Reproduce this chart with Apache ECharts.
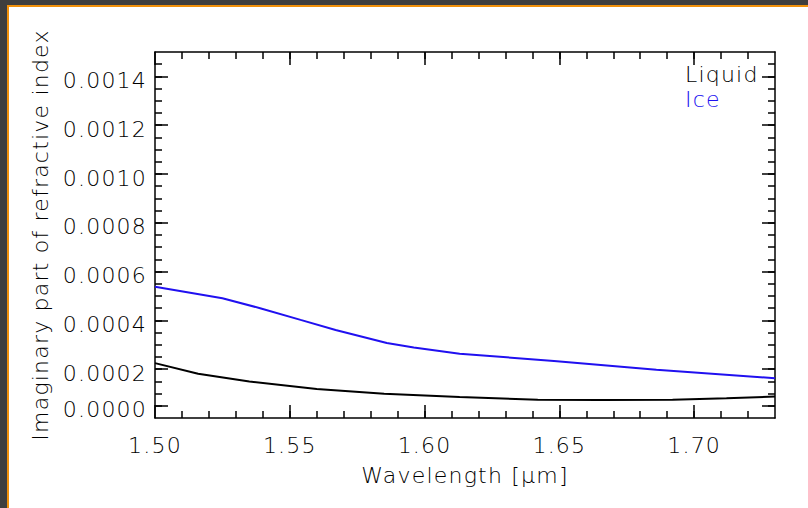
<!DOCTYPE html>
<html>
<head>
<meta charset="utf-8">
<script src="https://cdn.jsdelivr.net/npm/echarts@6/dist/echarts.min.js"></script>
<style>
  html, body { margin: 0; padding: 0; }
  body { width: 808px; height: 508px; position: relative; overflow: hidden; background: #3e3e3e; }
  #orange { position: absolute; left: 7px; top: 5px; right: 0; bottom: 0; background: #f0900a; }
  #paper { position: absolute; left: 9px; top: 7px; right: 0; bottom: 0; background: #ffffff; }
  #chart { position: absolute; left: 0; top: 0; width: 808px; height: 508px; }
  #chart text { letter-spacing: 1.2px; }
</style>
</head>
<body>
<div id="orange"></div>
<div id="paper"></div>
<div id="chart"></div>
<script>
// ---- data ----
const liquidWavelength = [1.500, 1.516, 1.535, 1.560, 1.585, 1.613, 1.642, 1.665, 1.692, 1.712, 1.730];
const liquidValues     = [0.000225, 0.000181, 0.000150, 0.000119, 0.000099, 0.000086, 0.000075, 0.000074, 0.000075, 0.000081, 0.000088];

const iceWavelength = [1.500, 1.525, 1.539, 1.554, 1.567, 1.586, 1.596, 1.613, 1.648, 1.686, 1.730];
const iceValues     = [0.000538, 0.000491, 0.000450, 0.000402, 0.000361, 0.000307, 0.000289, 0.000263, 0.000234, 0.000198, 0.000163];

const seriesNames = ['Liquid', 'Ice'];

// axis ticks / labels
const xMin = 1.50, xMax = 1.73;
const yMin = 0, yMax = 0.0015;
const xMajorTicks = [1.50, 1.55, 1.60, 1.65, 1.70];
const xMinorStep = 0.01;
const yMajorTicks = [0.00005, 0.0002, 0.0004, 0.0006, 0.0008, 0.0010, 0.0012, 0.0014];
const yTickLabels = ['0.0000', '0.0002', '0.0004', '0.0006', '0.0008', '0.0010', '0.0012', '0.0014'];
const yMinorStep = 0.00005;

const xTitle = 'Wavelength [μm]';
const yTitle = 'Imaginary part of refractive index';

// ---- chart ----
const FONT = 'DejaVu Sans';
const FS = 22;
const colLiquid = '#000000';
const colIce = '#2010f0';

function steps(min, max, step) {
  const out = [];
  const n = Math.round((max - min) / step);
  for (let i = 0; i <= n; i++) out.push(+(min + i * step).toFixed(8));
  return out;
}
const xMinor = steps(xMin, xMax, xMinorStep).filter(v => v > xMin && v < xMax);
const yMinor = steps(yMin, yMax, yMinorStep).filter(v => v > yMin && v < yMax);

const lineStyle = { color: '#000', width: 1.5 };
const baseText = { color: '#000', fontFamily: FONT, fontSize: FS, fontWeight: 300 };

function xAxisDef(pos, ticks, len, showLine, showLabel, extra) {
  return Object.assign({
    type: 'value', position: pos, min: xMin, max: xMax, gridIndex: 0,
    axisLine: { show: showLine, onZero: false, lineStyle: lineStyle },
    axisTick: { show: true, inside: true, length: len, customValues: ticks, lineStyle: { color: '#000', width: 1.5 } },
    axisLabel: showLabel ? Object.assign({
      show: true, customValues: ticks, margin: 16,
      formatter: v => v.toFixed(2)
    }, baseText) : { show: false },
    splitLine: { show: false }
  }, extra || {});
}
function yAxisDef(pos, ticks, len, showLine, showLabel, extra) {
  return Object.assign({
    type: 'value', position: pos, min: yMin, max: yMax, gridIndex: 0,
    axisLine: { show: showLine, onZero: false, lineStyle: lineStyle },
    axisTick: { show: true, inside: true, length: len, customValues: ticks, lineStyle: { color: '#000', width: 1.5 } },
    axisLabel: showLabel ? Object.assign({
      show: true, customValues: ticks, margin: 8,
      formatter: v => {
        let best = 0, d = Infinity;
        yMajorTicks.forEach((t, i) => { if (Math.abs(t - v) < d) { d = Math.abs(t - v); best = i; } });
        return '{t|' + yTickLabels[best] + '}';
      },
      rich: { t: Object.assign({}, baseText, { padding: [8, 0, 0, 0] }) }
    }, baseText) : { show: false },
    splitLine: { show: false }
  }, extra || {});
}

const chart = echarts.init(document.getElementById('chart'), null, { renderer: 'svg' });
chart.setOption({
  backgroundColor: 'transparent',
  animation: false,
  textStyle: { fontFamily: FONT },
  grid: { left: 155, top: 52, width: 620, height: 366, containLabel: false },
  legend: {
    orient: 'vertical', left: 675, top: 58, itemGap: 3,
    icon: 'none', itemWidth: 0, itemHeight: 0,
    selectedMode: false, inactiveColor: '#000',
    textStyle: Object.assign({}, baseText, { color: '#000000' }),
    data: [
      { name: seriesNames[0], textStyle: { color: colLiquid, fontWeight: 300 } },
      { name: seriesNames[1], textStyle: { color: colIce, fontWeight: 300 } }
    ]
  },
  xAxis: [
    xAxisDef('bottom', xMajorTicks, 13, true, true, {
      name: xTitle, nameLocation: 'middle', nameGap: 46,
      nameTextStyle: Object.assign({}, baseText)
    }),
    xAxisDef('bottom', xMinor, 7, false, false),
    xAxisDef('top', xMajorTicks, 13, true, false),
    xAxisDef('top', xMinor, 7, false, false)
  ],
  yAxis: [
    yAxisDef('left', yMajorTicks, 13, true, true, {
      name: yTitle, nameLocation: 'middle', nameGap: 104,
      nameTextStyle: Object.assign({}, baseText)
    }),
    yAxisDef('left', yMinor, 7, false, false),
    yAxisDef('right', yMajorTicks, 13, true, false),
    yAxisDef('right', yMinor, 7, false, false)
  ],
  series: [
    {
      name: seriesNames[0], type: 'line', xAxisIndex: 0, yAxisIndex: 0,
      showSymbol: false, symbol: 'none', smooth: false,
      lineStyle: { color: colLiquid, width: 2 }, itemStyle: { color: colLiquid },
      data: liquidWavelength.map((x, i) => [x, liquidValues[i]])
    },
    {
      name: seriesNames[1], type: 'line', xAxisIndex: 0, yAxisIndex: 0,
      showSymbol: false, symbol: 'none', smooth: false,
      lineStyle: { color: colIce, width: 2 }, itemStyle: { color: colIce },
      data: iceWavelength.map((x, i) => [x, iceValues[i]])
    }
  ]
});
</script>
</body>
</html>
